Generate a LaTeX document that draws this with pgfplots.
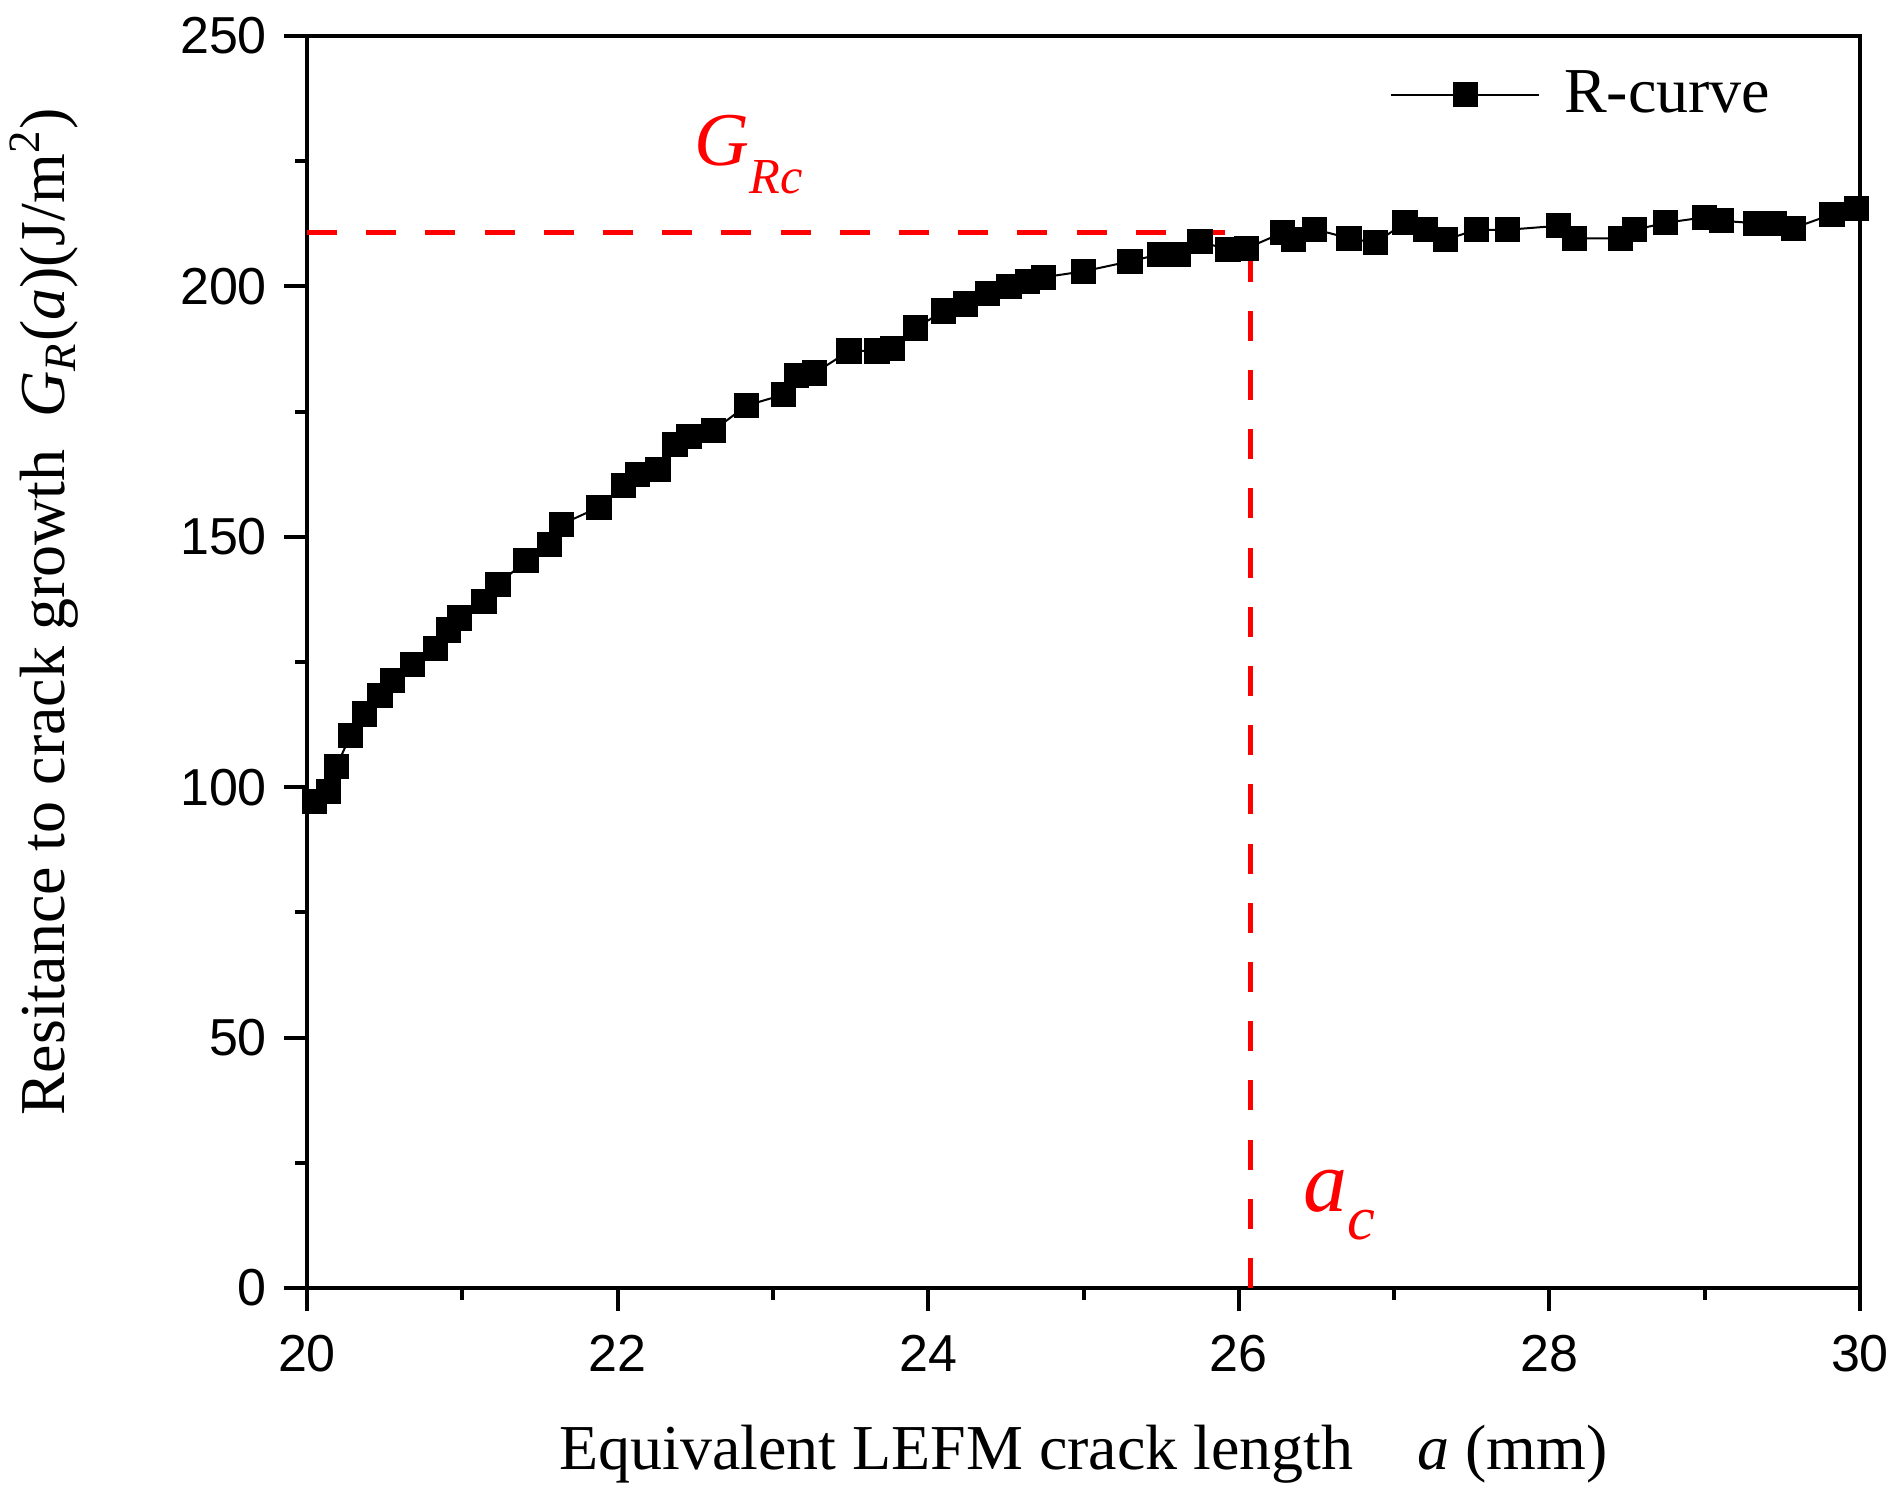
\documentclass[border=0pt]{standalone}
\usepackage{fontspec}
\setmainfont{Liberation Serif}
\newfontfamily\arial{Liberation Sans}
\usepackage{pgfplots}
\pgfplotsset{compat=1.18}
\usepackage{pgfplotstable}
\pgfplotstableread{
a G
20.05 97.1
20.14 99.2
20.19 104.2
20.28 110.3
20.37 114.6
20.47 118.3
20.55 121.3
20.68 124.5
20.83 127.7
20.91 131.4
20.98 133.8
21.14 137.0
21.23 140.5
21.41 145.2
21.56 148.5
21.64 152.5
21.88 155.9
22.04 160.2
22.13 162.4
22.26 163.4
22.37 168.4
22.46 170.1
22.62 171.3
22.83 176.2
23.07 178.4
23.15 182.2
23.27 182.7
23.49 187.1
23.67 187.1
23.77 187.6
23.92 191.7
24.10 195.1
24.24 196.5
24.38 198.5
24.52 199.9
24.64 200.9
24.74 201.8
25.00 203.0
25.30 205.0
25.49 206.4
25.61 206.4
25.75 208.9
25.93 207.4
26.05 207.6
26.28 210.7
26.35 209.4
26.49 211.4
26.71 209.6
26.88 208.7
27.07 212.7
27.20 211.3
27.33 209.3
27.53 211.3
27.73 211.3
28.06 212.1
28.16 209.6
28.46 209.6
28.55 211.3
28.75 212.7
29.00 213.8
29.11 213.1
29.33 212.6
29.45 212.6
29.57 211.6
29.82 214.4
29.98 215.6
}\rcurve
\begin{document}
\begin{tikzpicture}
\useasboundingbox (0,0) rectangle (475pt,374pt);
\begin{axis}[
  at={(76.75pt,52pt)}, anchor=south west,
  scale only axis, width=388.25pt, height=313pt,
  xmin=20, xmax=30, ymin=0, ymax=250,
  xtick={20,22,...,30}, ytick={0,50,...,250},
  minor xtick={21,23,25,27,29}, minor ytick={25,75,...,225},
  axis line style={line width=1pt},
  every tick/.style={black, line width=1pt},
  tick align=outside,
  major tick length=5.8pt, minor tick length=3pt,
  xtick pos=bottom, ytick pos=left,
  /pgf/number format/assume math mode=true,
  ticklabel style={font=\arial\fontsize{13}{15}\selectfont},
  xticklabel style={yshift=-2.5pt},
  yticklabel style={xshift=-0.7pt},
  xlabel={Equivalent LEFM crack length\quad{\itshape a} (mm)},
  ylabel={Resitance to crack growth\enspace{\itshape G}\textsubscript{\itshape R}({\itshape a})(J/m\textsuperscript{2})},
  label style={font=\fontsize{16}{18}\selectfont},
  xlabel style={at={(axis description cs:0.5,0)}, anchor=base, yshift=-45.5pt},
  ylabel style={at={(axis description cs:-0.1690,0.54)}, anchor=center},
  legend style={draw=none, fill=none, at={(axis cs:26.97,238.3)}, anchor=west,
    font=\fontsize{16}{18}\selectfont, inner sep=0pt},
  legend image code/.code={\draw[mark repeat=2,mark phase=2] plot coordinates {(0pt,0pt)(18.5pt,0pt)(37pt,0pt)};\path (41pt,0pt);},
  clip=false,
]
\addplot[red, line width=1.2pt, dash pattern=on 7.5pt off 7.3pt, forget plot] coordinates {(20,210.7) (26.075,210.7)};
\addplot[red, line width=1.2pt, dash pattern=on 7.5pt off 7.3pt, forget plot] coordinates {(26.075,0) (26.075,210.5)};
\addplot[black, line width=0.5pt, mark=square*, mark size=2.9pt, mark options={solid}] table[x=a, y=G] {\rcurve};
\addlegendentry{R-curve}
\node[red, anchor=base west, inner sep=0pt, font=\fontsize{19}{20}\selectfont\itshape] at (axis cs:22.49,224.2) {G\raisebox{-7pt}{\fontsize{12.6}{13}\selectfont Rc}};
\node[red, anchor=base west, inner sep=0pt, font=\fontsize{22}{24}\selectfont\itshape] at (axis cs:26.41,15.2) {a\raisebox{-7pt}{\fontsize{15.6}{16}\selectfont c}};
\end{axis}
\end{tikzpicture}
\end{document}
